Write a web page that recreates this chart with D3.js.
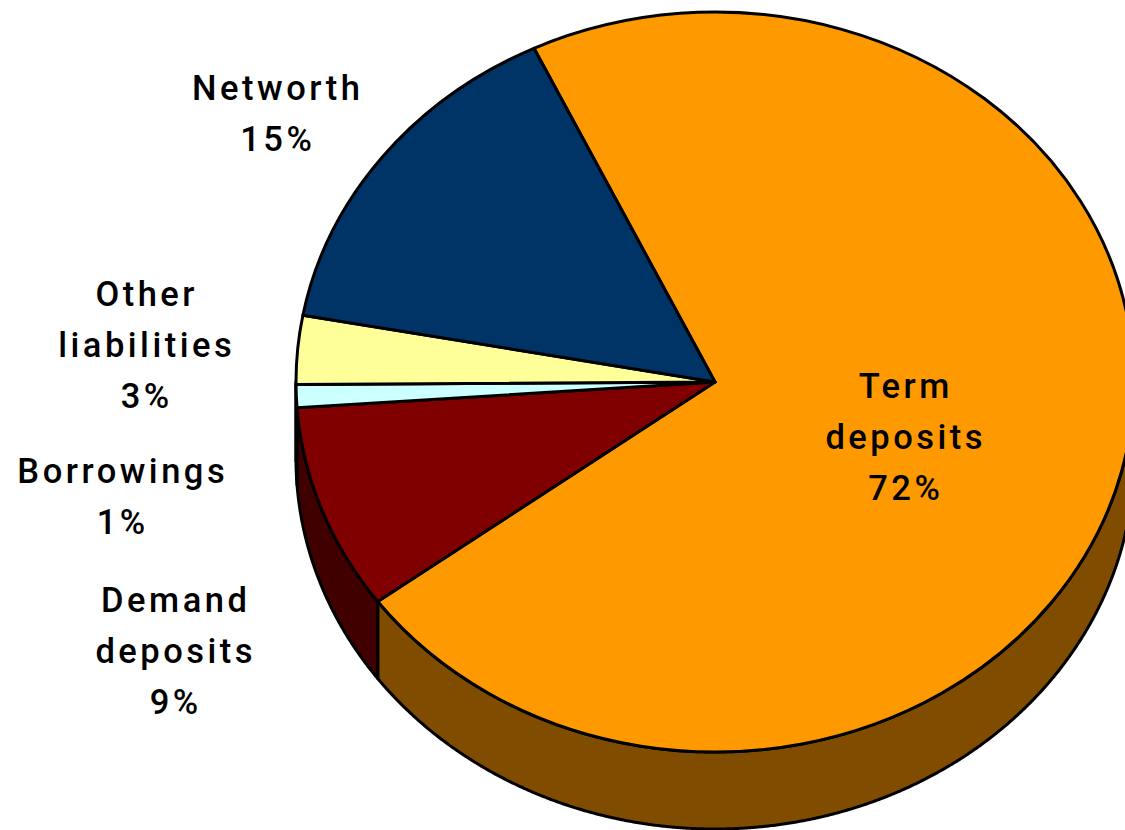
<!DOCTYPE html>
<html>
<head>
<meta charset="utf-8">
<script src="https://cdn.jsdelivr.net/npm/d3@7"></script>
<style>
  html, body { margin: 0; padding: 0; background: #ffffff; }
  svg { display: block; }
</style>
</head>
<body>
<svg id="chart" width="1125" height="830"></svg>
<script>
// Liability mix, share of total (%)
const categories = ["Term deposits", "Demand deposits", "Borrowings", "Other liabilities", "Networth"];
const shares = [72, 9, 1, 3, 15];
const topColors = ["#FF9900", "#800000", "#CCFFFF", "#FFFF99", "#003366"];
const sideColors = ["#7F4C00", "#400000", "#668080", "#80804C", "#001A33"];

const svg = d3.select("#chart");

// Tilted pie geometry
const cx = 715, cy = 382, rx = 419, ry = 370, depth = 77;
const startA = -25.6 * Math.PI / 180;

const pie = d3.pie().sort(null).value(d => d)
  .startAngle(startA).endAngle(startA + 2 * Math.PI);
const arcsData = pie(shares);

// point on the top (or lowered) ellipse; angle 0 at 12 o'clock, clockwise
const px = a => cx + rx * Math.sin(a);
const py = (a, dz) => cy - ry * Math.cos(a) + dz;

// Visible side wall: the front half of the rim, angles in [pi/2, 3pi/2]
function sidePath(a0, a1) {
  const n = Math.max(2, Math.ceil((a1 - a0) / 0.004));
  const p = d3.path();
  for (let i = 0; i <= n; i++) {
    const a = a0 + (a1 - a0) * i / n;
    if (i === 0) p.moveTo(px(a), py(a, 0)); else p.lineTo(px(a), py(a, 0));
  }
  for (let i = n; i >= 0; i--) {
    const a = a0 + (a1 - a0) * i / n;
    p.lineTo(px(a), py(a, depth));
  }
  p.closePath();
  return p.toString();
}

const sides = [];
arcsData.forEach((d, i) => {
  [-2 * Math.PI, 0, 2 * Math.PI].forEach(shift => {
    const s = Math.max(d.startAngle + shift, Math.PI / 2);
    const e = Math.min(d.endAngle + shift, 3 * Math.PI / 2);
    if (e > s) sides.push({ i, s, e });
  });
});

const g = svg.append("g");

g.selectAll("path.side")
  .data(sides)
  .join("path")
  .attr("class", "side")
  .attr("d", d => sidePath(d.s, d.e))
  .attr("fill", d => sideColors[d.i])
  .attr("stroke", "#000")
  .attr("stroke-width", 3)
  .attr("stroke-linejoin", "round");

// Top faces: circular arcs squashed vertically into the ellipse
const arcGen = d3.arc().innerRadius(0).outerRadius(rx);
g.append("g")
  .attr("transform", `translate(${cx},${cy}) scale(1,${ry / rx})`)
  .selectAll("path.top")
  .data(arcsData)
  .join("path")
  .attr("class", "top")
  .attr("d", arcGen)
  .attr("fill", (d, i) => topColors[i])
  .attr("stroke", "#000")
  .attr("stroke-width", 3)
  .attr("stroke-linejoin", "round")
  .attr("vector-effect", "non-scaling-stroke");

// Category labels with their shares
const labelPos = [
  { x: 904, y: 398 },   // Term deposits
  { x: 174, y: 612 },   // Demand deposits
  { x: 121, y: 483 },   // Borrowings
  { x: 145, y: 306 },   // Other liabilities
  { x: 276, y: 100 }    // Networth
];
const lineGap = 51;
const spacing = 3.5;

categories.forEach((name, i) => {
  const lines = name.split(" ").concat([shares[i] + "%"]);
  const t = svg.append("text")
    .attr("text-anchor", "middle")
    .attr("font-family", "Roboto, Liberation Sans, Arial, sans-serif")
    .attr("font-weight", 500)
    .attr("font-size", 34.5)
    .attr("letter-spacing", spacing)
    .attr("fill", "#000");
  lines.forEach((ln, k) => {
    t.append("tspan")
      .attr("x", labelPos[i].x + spacing / 2)
      .attr("y", labelPos[i].y + k * lineGap)
      .text(ln);
  });
});
</script>
</body>
</html>
